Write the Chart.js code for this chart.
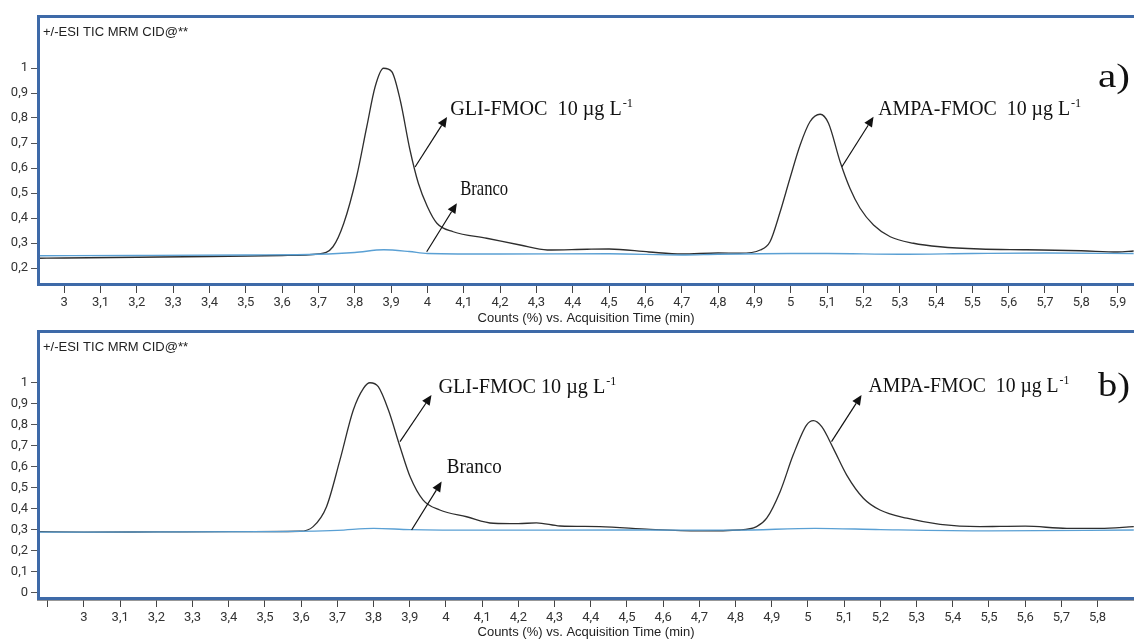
<!DOCTYPE html>
<html><head><meta charset="utf-8">
<script src="https://cdn.jsdelivr.net/npm/chart.js@4.4.1/dist/chart.umd.min.js"></script>
<style>
html,body{margin:0;padding:0;background:#fff;width:1134px;height:640px;overflow:hidden}
.wrap{position:absolute;left:0;width:1134px}
#wa{top:0;height:326px}
#wb{top:320px;height:320px}
canvas{display:block}
</style></head><body>
<div class="wrap" id="wa"><canvas id="ca" width="1134" height="326"></canvas></div>
<div class="wrap" id="wb"><canvas id="cb" width="1134" height="320"></canvas></div>
<script>
// ---------- Panel a) data ----------
const sampleTimeA = [2.93,3.0,3.2,3.4,3.6,3.7,3.74,3.77,3.805,3.833,3.856,3.879,3.902,3.925,3.952,3.975,4.0,4.026,4.071,4.163,4.255,4.33,4.44,4.5,4.61,4.7,4.8,4.86,4.916,4.943,4.971,4.998,5.026,5.053,5.081,5.104,5.136,5.163,5.191,5.228,5.274,5.338,5.411,5.521,5.65,5.8,5.9,5.944];
const sampleValA  = [0.239,0.240,0.243,0.246,0.250,0.256,0.285,0.38,0.565,0.765,0.925,0.999,0.985,0.872,0.672,0.539,0.445,0.379,0.345,0.319,0.292,0.272,0.275,0.276,0.264,0.256,0.26,0.259,0.272,0.305,0.425,0.559,0.692,0.785,0.815,0.779,0.625,0.519,0.439,0.372,0.325,0.299,0.285,0.276,0.273,0.269,0.264,0.268];
const blankTimeA  = [2.93,3.2,3.5,3.7,3.8,3.88,3.95,4.0,4.2,4.5,4.7,4.8,5.0,5.1,5.3,5.5,5.7,5.944];
const blankValA   = [0.249,0.25,0.252,0.255,0.262,0.273,0.266,0.258,0.256,0.257,0.252,0.255,0.258,0.258,0.255,0.258,0.26,0.258];
const xTicksA  = [3,3.1,3.2,3.3,3.4,3.5,3.6,3.7,3.8,3.9,4,4.1,4.2,4.3,4.4,4.5,4.6,4.7,4.8,4.9,5,5.1,5.2,5.3,5.4,5.5,5.6,5.7,5.8,5.9];
const xLabelsA = ["3","3,1","3,2","3,3","3,4","3,5","3,6","3,7","3,8","3,9","4","4,1","4,2","4,3","4,4","4,5","4,6","4,7","4,8","4,9","5","5,1","5,2","5,3","5,4","5,5","5,6","5,7","5,8","5,9"];
const yTicksA  = [0.2,0.3,0.4,0.5,0.6,0.7,0.8,0.9,1];
const yLabelsA = ["0,2","0,3","0,4","0,5","0,6","0,7","0,8","0,9","1"];

// ---------- Panel b) data ----------
const sampleTimeB = [2.873,3.0,3.2,3.4,3.597,3.633,3.67,3.707,3.744,3.772,3.79,3.813,3.841,3.873,3.901,3.937,3.983,4.057,4.131,4.2,4.25,4.315,4.425,4.564,4.7,4.812,4.858,4.886,4.923,4.959,4.996,5.015,5.038,5.07,5.107,5.153,5.199,5.273,5.365,5.475,5.53,5.6,5.715,5.807,5.9];
const sampleValB  = [0.29,0.288,0.289,0.29,0.292,0.314,0.409,0.63,0.868,0.971,0.998,0.979,0.868,0.694,0.551,0.44,0.393,0.361,0.33,0.328,0.332,0.317,0.314,0.301,0.294,0.298,0.314,0.354,0.48,0.654,0.797,0.818,0.789,0.686,0.559,0.449,0.393,0.354,0.325,0.314,0.315,0.316,0.306,0.306,0.314];
const blankTimeB  = [2.873,3.5,3.7,3.8,3.9,4.1,4.5,4.8,5.02,5.2,5.5,5.9];
const blankValB   = [0.288,0.29,0.296,0.306,0.3,0.297,0.298,0.297,0.306,0.3,0.294,0.298];
const xTicksB  = [2.9,3,3.1,3.2,3.3,3.4,3.5,3.6,3.7,3.8,3.9,4,4.1,4.2,4.3,4.4,4.5,4.6,4.7,4.8,4.9,5,5.1,5.2,5.3,5.4,5.5,5.6,5.7,5.8];
const xLabelsB = ["","3","3,1","3,2","3,3","3,4","3,5","3,6","3,7","3,8","3,9","4","4,1","4,2","4,3","4,4","4,5","4,6","4,7","4,8","4,9","5","5,1","5,2","5,3","5,4","5,5","5,6","5,7","5,8"];
const yTicksB  = [0,0.1,0.2,0.3,0.4,0.5,0.6,0.7,0.8,0.9,1];
const yLabelsB = ["0","0,1","0,2","0,3","0,4","0,5","0,6","0,7","0,8","0,9","1"];

const headerText = "+/-ESI TIC MRM CID@**";
const xTitle = "Counts (%) vs. Acquisition Time (min)";

// annotations (data coordinates)
const notesA = {
  arrows: [[3.966,0.604,4.054,0.804],[3.998,0.265,4.081,0.459],[5.141,0.605,5.228,0.805]],
  labels: [
    {t:4.0625,v:0.812,text:"GLI-FMOC  10 µg L",sup:"-1",size:21,w:182},
    {t:4.09,v:0.492,text:"Branco",size:21,w:48},
    {t:5.241,v:0.812,text:"AMPA-FMOC  10 µg L",sup:"-1",size:21,w:202},
    {t:5.846,v:0.924,text:"a)",size:34,w:32}
  ]
};
const notesB = {
  arrows: [[3.873,0.718,3.96,0.94],[3.905,0.298,3.988,0.528],[5.065,0.718,5.148,0.94]],
  labels: [
    {t:3.979,v:0.948,text:"GLI-FMOC 10 µg L",sup:"-1",size:20,w:177},
    {t:4.002,v:0.567,text:"Branco",size:20,w:55},
    {t:5.167,v:0.955,text:"AMPA-FMOC  10 µg L",sup:"-1",size:20,w:200},
    {t:5.801,v:0.935,text:"b)",size:34,w:32}
  ]
};

const FRAME = '#3e6aa8';
const SERIF = '"Liberation Serif","Times New Roman",serif';

const framePlugin = {
  id: 'frame',
  afterDraw(chart, args, o) {
    const {ctx, chartArea: a} = chart;
    ctx.save();
    ctx.strokeStyle = FRAME; ctx.lineWidth = 3;
    ctx.beginPath();
    ctx.moveTo(a.right + 10, a.top + 1.5);
    ctx.lineTo(a.left + 0.5, a.top + 1.5);
    ctx.lineTo(a.left + 0.5, a.bottom - 1.5);
    ctx.lineTo(a.right + 10, a.bottom - 1.5);
    ctx.stroke();
    ctx.fillStyle = '#222';
    ctx.font = '13px "Liberation Sans", Arial, sans-serif';
    ctx.textBaseline = 'middle';
    ctx.fillText(headerText, a.left + 5, a.top + 17);
    ctx.restore();
  }
};

const notesPlugin = {
  id: 'notes',
  afterDatasetsDraw(chart, args, opts) {
    const {ctx, scales: {x, y}} = chart;
    ctx.save();
    (opts.arrows || []).forEach(ar => {
      const x1 = x.getPixelForValue(ar[0]), y1 = y.getPixelForValue(ar[1]);
      const x2 = x.getPixelForValue(ar[2]), y2 = y.getPixelForValue(ar[3]);
      const ang = Math.atan2(y2 - y1, x2 - x1), hl = 10, hw = 4.5;
      const bx = x2 - hl * Math.cos(ang), by = y2 - hl * Math.sin(ang);
      ctx.strokeStyle = '#111'; ctx.lineWidth = 1.2;
      ctx.beginPath(); ctx.moveTo(x1, y1); ctx.lineTo(bx, by); ctx.stroke();
      ctx.fillStyle = '#111';
      ctx.beginPath(); ctx.moveTo(x2, y2);
      ctx.lineTo(bx + hw * Math.sin(ang), by - hw * Math.cos(ang));
      ctx.lineTo(bx - hw * Math.sin(ang), by + hw * Math.cos(ang));
      ctx.closePath(); ctx.fill();
    });
    (opts.labels || []).forEach(l => {
      const px = x.getPixelForValue(l.t), py = y.getPixelForValue(l.v);
      const mainFont = l.size + 'px ' + SERIF;
      const supFont = Math.round(l.size * 0.62) + 'px ' + SERIF;
      ctx.font = mainFont;
      const w1 = ctx.measureText(l.text).width;
      let w2 = 0;
      if (l.sup) { ctx.font = supFont; w2 = ctx.measureText(l.sup).width; }
      const sx = l.w ? l.w / (w1 + w2) : 1;
      ctx.save();
      ctx.translate(px, py); ctx.scale(sx, 1);
      ctx.fillStyle = '#111'; ctx.textAlign = 'left'; ctx.textBaseline = 'alphabetic';
      ctx.font = mainFont; ctx.fillText(l.text, 0, 0);
      if (l.sup) { ctx.font = supFont; ctx.fillText(l.sup, w1 + 1, -l.size * 0.4); }
      ctx.restore();
    });
    ctx.restore();
  }
};

function makePanel(id, cfg) {
  const pts = (t, v) => t.map((tt, i) => ({x: tt, y: v[i]}));
  return new Chart(document.getElementById(id), {
    type: 'line',
    data: {
      datasets: [
        {label: 'Branco', data: pts(cfg.blankT, cfg.blankV), borderColor: '#5aa0d4', borderWidth: 1.3, pointRadius: 0, cubicInterpolationMode: 'monotone', fill: false},
        {label: 'Amostra', data: pts(cfg.sampT, cfg.sampV), borderColor: '#2e2e2e', borderWidth: 1.3, pointRadius: 0, cubicInterpolationMode: 'monotone', fill: false}
      ]
    },
    options: {
      responsive: false, animation: false, events: [],
      layout: {padding: {top: cfg.padTop, left: 0, right: 0, bottom: 0}},
      plugins: {legend: {display: false}, tooltip: {enabled: false}, notes: cfg.notes},
      scales: {
        x: {
          type: 'linear', min: cfg.xmin, max: cfg.xmax,
          afterBuildTicks: s => { s.ticks = cfg.xTicks.map(v => ({value: v})); },
          afterFit: s => { s.height = cfg.xh; s.paddingLeft = 0; s.paddingRight = 0; },
          ticks: {autoSkip: false, maxRotation: 0, padding: cfg.xpad, color: '#333',
                  font: {family: 'Roboto', size: 13}, callback: (v, i) => cfg.xLabels[i]},
          grid: {drawOnChartArea: false, drawTicks: true, tickLength: 7, color: '#444', tickWidth: 1},
          border: {display: cfg.xBorder, color: '#333', width: 1.5},
          title: {display: true, text: xTitle, color: '#222', padding: {top: 0, bottom: 0},
                  font: {family: '"Liberation Sans", Arial', size: 13}}
        },
        y: {
          type: 'linear', min: cfg.ymin, max: cfg.ymax,
          afterBuildTicks: s => { s.ticks = cfg.yTicks.map(v => ({value: v})); },
          afterFit: s => { s.width = 38; s.paddingTop = 0; s.paddingBottom = 0; },
          ticks: {padding: 3, color: '#333', font: {family: 'Roboto', size: 13},
                  callback: (v, i) => cfg.yLabels[i]},
          grid: {drawOnChartArea: false, drawTicks: true, tickLength: 7, color: '#555'},
          border: {display: false}
        }
      }
    },
    plugins: [notesPlugin, framePlugin]
  });
}

makePanel('ca', {
  sampT: sampleTimeA, sampV: sampleValA, blankT: blankTimeA, blankV: blankValA,
  xTicks: xTicksA, xLabels: xLabelsA, yTicks: yTicksA, yLabels: yLabelsA,
  xmin: 2.928, xmax: 5.945, ymin: 0.128, ymax: 1.212, padTop: 15, xh: 40, xpad: 2,
  xBorder: false, notes: notesA
});
makePanel('cb', {
  sampT: sampleTimeB, sampV: sampleValB, blankT: blankTimeB, blankV: blankValB,
  xTicks: xTicksB, xLabels: xLabelsB, yTicks: yTicksB, yLabels: yLabelsB,
  xmin: 2.873, xmax: 5.9006, ymin: -0.0347, ymax: 1.2486, padTop: 10, xh: 40, xpad: 3,
  xBorder: true, notes: notesB
});
</script></body></html>
